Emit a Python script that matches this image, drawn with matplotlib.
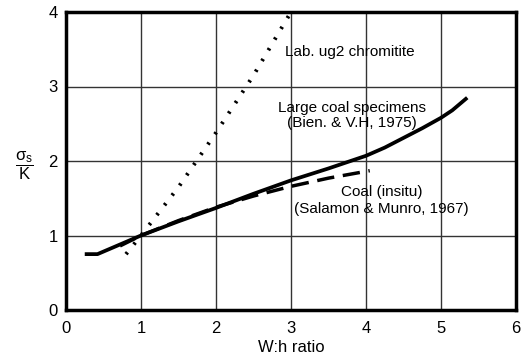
import matplotlib
matplotlib.use("Agg")
import matplotlib.pyplot as plt

plt.rcParams['font.family'] = ['Liberation Sans', 'DejaVu Sans']
plt.rcParams['mathtext.fontset'] = 'custom'
plt.rcParams['mathtext.rm'] = 'Liberation Sans'
plt.rcParams['mathtext.it'] = 'Liberation Sans'

# Large coal specimens (Bien. & V.H, 1975)
large_x = [0.25, 0.42, 1.0, 1.5, 2.0, 2.5, 3.0, 3.5, 4.0, 4.25, 4.5, 4.75, 5.0, 5.15, 5.35]
large_y = [0.75, 0.75, 1.0, 1.19, 1.37, 1.56, 1.74, 1.90, 2.07, 2.18, 2.31, 2.44, 2.58, 2.68, 2.85]

# Coal (insitu) (Salamon & Munro, 1967)
insitu_x = [0.72, 1.0, 1.5, 2.0, 2.5, 3.0, 3.5, 4.05]
insitu_y = [0.86, 1.0, 1.2, 1.38, 1.53, 1.66, 1.77, 1.87]

# Lab. ug2 chromitite
ug2_x = [0.8, 1.0, 1.5, 2.0, 2.5, 3.0]
ug2_y = [0.75, 1.0, 1.65, 2.38, 3.15, 4.0]

xticks = [0, 1, 2, 3, 4, 5, 6]
yticks = [0, 1, 2, 3, 4]

fig = plt.figure(figsize=(5.21, 3.58), dpi=100)
ax = fig.add_axes([66/521, 1 - 310/358, 450/521, 298/358])

ax.plot(large_x, large_y, color='black', lw=2.7, solid_capstyle='butt')
ax.plot(insitu_x, insitu_y, color='black', lw=2.5, dashes=(5, 2.5))
ax.plot(ug2_x, ug2_y, color='black', lw=2.8, linestyle=(0, (0.6, 2.6)))

ax.set_xlim(0, 6)
ax.set_ylim(0, 4)
ax.set_xticks(xticks)
ax.set_yticks(yticks)
ax.tick_params(length=0, labelsize=12)
ax.tick_params(axis='x', pad=8)
ax.tick_params(axis='y', pad=6)
ax.grid(True, color='#333333', lw=1.0)
ax.set_axisbelow(True)
for s in ax.spines.values():
    s.set_linewidth(2.5)

fs = 11
ax.text(3.79, 3.46, 'Lab. ug2 chromitite', fontsize=fs, ha='center', va='center')
ax.text(3.81, 2.71, 'Large coal specimens', fontsize=fs, ha='center', va='center')
ax.text(3.81, 2.51, '(Bien. & V.H, 1975)', fontsize=fs, ha='center', va='center')
ax.text(4.21, 1.58, 'Coal (insitu)', fontsize=fs, ha='center', va='center')
ax.text(4.21, 1.36, '(Salamon & Munro, 1967)', fontsize=fs, ha='center', va='center')

ax.set_xlabel('W:h ratio', fontsize=12, labelpad=3)
fig.text(24/521, 1 - 166/358, r'$\dfrac{\mathrm{\sigma_s}}{\mathrm{K}}$', fontsize=12,
         ha='center', va='center')

fig.savefig('out.png', dpi=100)
